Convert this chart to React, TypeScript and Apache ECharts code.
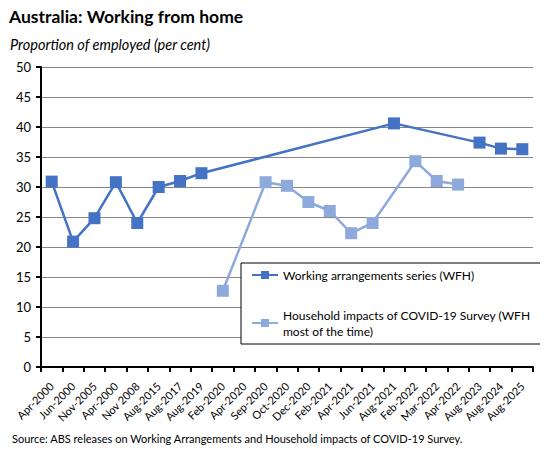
import React, { useEffect, useRef } from "react";
import * as echarts from "echarts";

const categories = [
  "Apr-2000", "Jun-2000", "Nov-2005", "Apr-2000", "Nov 2008", "Aug-2015",
  "Aug-2017", "Aug-2019", "Feb-2020", "Apr-2020", "Sep-2020", "Oct-2020",
  "Dec-2020", "Feb-2021", "Apr-2021", "Jun-2021", "Aug-2021", "Feb-2022",
  "Mar-2022", "Apr-2022", "Aug-2023", "Aug-2024", "Aug-2025",
];

const workingArrangements = [
  30.9, 20.9, 24.8, 30.8, 24.0, 30.0, 31.0, 32.3, null, null, null, null,
  null, null, null, null, 40.6, null, null, null, 37.4, 36.4, 36.3,
];

const householdImpacts = [
  null, null, null, null, null, null, null, null, 12.7, null, 30.8, 30.2,
  27.5, 26.0, 22.3, 24.0, null, 34.3, 31.0, 30.4, null, null, null,
];

const yTicks = { min: 0, max: 50, interval: 5 };

const seriesNames = [
  "Working arrangements series (WFH)",
  "Household impacts of COVID-19 Survey (WFH most of the time)",
];

const FONT = "Lato, 'Open Sans', sans-serif";

export default function App() {
  const ref = useRef<HTMLDivElement>(null);
  useEffect(() => {
    if (!ref.current) return;
    const chart = echarts.init(ref.current, null, { renderer: "svg" });
    chart.setOption({
      animation: false,
      backgroundColor: "#fff",
      textStyle: { fontFamily: FONT },
      title: [
        {
          text: "Australia: Working from home",
          left: 9,
          top: 7,
          padding: 0,
          textStyle: { fontFamily: FONT, fontWeight: "bold", fontSize: 17.5, color: "#000" },
        },
        {
          text: "Proportion of employed (per cent)",
          left: 10,
          top: 37,
          padding: 0,
          textStyle: { fontFamily: FONT, fontStyle: "italic", fontWeight: "normal", fontSize: 14.5, color: "#000" },
        },
        {
          text: "Source: ABS releases on Working Arrangements and Household impacts of COVID-19 Survey.",
          left: 12,
          top: 433,
          padding: 0,
          textStyle: { fontFamily: FONT, fontWeight: "normal", fontSize: 11, color: "#000" },
        },
      ],
      grid: { left: 41, right: 15, top: 67, bottom: 87, containLabel: false },
      xAxis: {
        type: "category",
        data: categories,
        boundaryGap: true,
        axisLine: { lineStyle: { color: "#000", width: 2 } },
        axisTick: { show: true, length: 5, lineStyle: { color: "#000", width: 2 } },
        axisLabel: {
          interval: 0,
          rotate: 45,
          margin: 17,
          fontFamily: FONT,
          fontSize: 11,
          color: "#000",
        },
        splitLine: { show: false },
      },
      yAxis: {
        type: "value",
        min: yTicks.min,
        max: yTicks.max,
        interval: yTicks.interval,
        axisLine: { show: true, lineStyle: { color: "#000", width: 2 } },
        axisTick: { show: true, length: 5, lineStyle: { color: "#000", width: 2 } },
        axisLabel: { fontFamily: FONT, fontSize: 13, color: "#000", margin: 10 },
        splitLine: { show: true, lineStyle: { color: "#868686", width: 1 } },
      },
      legend: [
        {
          data: [seriesNames[0]],
          left: 251,
          top: 267,
          padding: 0,
          itemWidth: 26,
          itemHeight: 10,
          textStyle: { fontFamily: FONT, fontSize: 12, color: "#000", lineHeight: 16 },
        },
        {
          data: [seriesNames[1]],
          left: 251,
          top: 299,
          padding: 0,
          itemWidth: 26,
          itemHeight: 10,
          formatter: () => "Household impacts of COVID-19 Survey (WFH\nmost of the time)",
          textStyle: {
            fontFamily: FONT,
            fontSize: 12,
            color: "#000",
            lineHeight: 16,
            padding: [16, 0, 0, 0],
          },
        },
      ],
      graphic: [
        {
          type: "rect",
          z: 3,
          shape: { x: 241, y: 263, width: 301, height: 81 },
          style: { fill: "#fff", stroke: "#000", lineWidth: 1 },
        },
      ],
      series: [
        {
          name: seriesNames[0],
          type: "line",
          data: workingArrangements,
          connectNulls: true,
          symbol: "rect",
          symbolSize: 12,
          z: 3,
          lineStyle: { color: "#4472C4", width: 2.5 },
          itemStyle: { color: "#4472C4" },
        },
        {
          name: seriesNames[1],
          type: "line",
          data: householdImpacts,
          connectNulls: true,
          symbol: "rect",
          symbolSize: 12,
          z: 2,
          lineStyle: { color: "#8EA9DB", width: 2.5 },
          itemStyle: { color: "#8EA9DB" },
        },
      ],
    });
    return () => chart.dispose();
  }, []);
  return <div ref={ref} style={{ width: 548, height: 454, margin: -8 }} />;
}
